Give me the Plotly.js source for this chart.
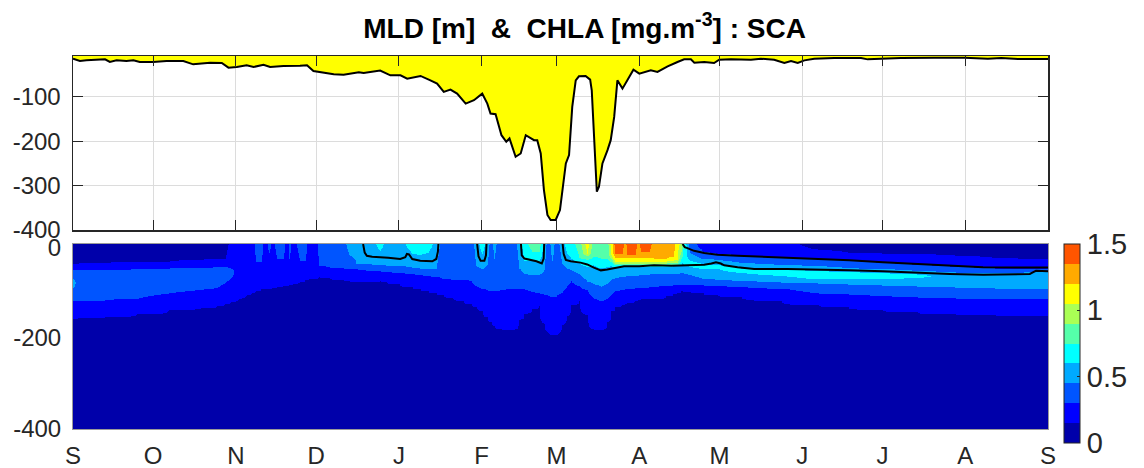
<!DOCTYPE html>
<html><head><meta charset="utf-8">
<script src="https://cdn.plot.ly/plotly-3.0.1.min.js"></script>
<style>html,body{margin:0;padding:0;background:#fff}#chart{width:1144px;height:468px}</style>
</head><body><div id="chart"></div>
<script>
// ---- axis ticks (days since 1 September) ----
const monthTickDays = [0,30,61,91,122,153,181,212,242,273,303,334,365];
const monthTickLabels = ['S','O','N','D','J','F','M','A','M','J','J','A','S'];
const mldTickVals = [-400,-300,-200,-100];
const mldTickText = ['-400','-300','-200','-100'];
const chlaTickVals = [-400,-200,0];
const chlaTickText = ['-400','-200','0'];

// ---- mixed layer depth (m) ----
const mldDay = [0,2.6,5,8.8,12,13.8,16.3,20,22.6,25,30,35,41.3,45,51.3,55.7,58.2,61.3,65,67.6,71.3,73.8,78.8,85,87.6,90,93.8,97.6,101.3,103.8,107,108.8,111.3,115,118.8,122.6,125.1,130.1,133.8,136.3,138.8,141.3,143.8,147,150.1,153.2,155.1,156.3,158.2,160.4,162.2,163.4,165.7,167.6,169.5,170.7,172.6,173.8,175.1,176.3,177.6,178.8,180.7,182.3,183.2,184.5,185.7,186.9,188.2,189.4,191.9,193.6,194.2,195.1,196.1,196.9,198.2,200.1,201.3,202.6,203.8,205.7,207.6,209.8,212,213.8,216.3,218.8,222.6,226.3,228.8,231.3,232.6,236.3,240,241.9,246.3,253.8,257.5,262.5,266.3,268.8,271.3,273.8,277.5,285,295,297.5,302.5,310,322.5,333.8,342.5,347.5,353.8,360,365];
const mldDepth = [-13.6,-18.9,-17.4,-15.2,-15,-21,-17.4,-19,-17.4,-21,-21,-19,-19,-26.4,-22.6,-23.4,-33.9,-32.4,-28.6,-32.4,-27.2,-32.4,-30.2,-29.4,-28.6,-41.4,-45.9,-48.9,-49.7,-47.4,-44.4,-45.9,-44.4,-40.6,-51.2,-51.2,-58.6,-52.6,-62.4,-69.9,-88.6,-83.4,-92.4,-114.9,-107.4,-92.4,-114.9,-137.4,-138.9,-186.2,-201,-193.6,-234.9,-227.4,-186.2,-190,-197.4,-197.4,-227.4,-310,-366,-377.4,-377.4,-355,-310,-250,-231,-122.4,-62.4,-53.4,-52.6,-60.9,-84.9,-197.4,-313.6,-302.4,-249.9,-219.9,-197.4,-144.9,-62.4,-81.2,-62.4,-38.4,-47.4,-43.6,-39.9,-43.6,-30.9,-21.2,-15.2,-15.2,-22.6,-21.2,-23.4,-15.9,-15.2,-16,-13.6,-16,-23.4,-18.9,-23.4,-17.4,-13.6,-12.2,-12.2,-15.2,-13.6,-12.2,-11.4,-11.4,-13.6,-12.2,-14.4,-13.6,-14.4];

// ---- chlorophyll-a (mg m-3): colour band read at each date, top to bottom ----
// each profile: [band, bottom depth of band, band, bottom depth, ..., deepest band]
const chlaDay = [0,2,12,24,36,48,54,57,59,62,65,67,68.5,70.5,72,73.2,74.5,76.2,78.5,80,81,82.5,84.8,86.8,88.5,90.5,92,96,101,103.5,106,108,112,115,117,122,127,130,133,136,138.5,142,146,149,151,153,155,156.5,157.5,159,162,165,167,169,172,174.5,176.5,178,179.5,181,183,185,186.5,189.5,192.5,194.5,197.5,200,201.5,203,205.5,206.5,207.5,210.5,211.5,212.5,215.5,217,222,224.5,226,227.5,228,231,236,241,250,265,279,290,303,316,330,345,365];
const chlaBands = [
 [0,-35,1,-50,2,-68,3,-88,2,-119,1,-156,0],
 [0,-35,1,-50,2,-119,1,-155,0],
 [0,-34,1,-50,2,-117,1,-152,0],
 [0,-32,1,-48,2,-112,1,-147,0],
 [0,-31,1,-45,2,-101,1,-138,0],
 [0,-28,1,-44,2,-94,1,-133,0],
 [0,-26,1,-42,2,-88,1,-128,0],
 [0,-25,1,-42,2,-78,1,-124,0],
 [1,-46,2,-66,1,-120,0],
 [1,-112,0],
 [1,-105,0],
 [1,-100,0],
 [2,-33,1,-97,0],
 [2,-33,1,-93,0],
 [1,-91,0],
 [2,-13,1,-90,0],
 [1,-89,0],
 [2,-26,1,-87,0],
 [2,-26,1,-85,0],
 [1,-84,0],
 [2,-24,1,-83,0],
 [1,-81,0],
 [2,-30,1,-76,0],
 [2,-30,1,-73,0],
 [1,-71,0],
 [1,-68,0],
 [2,-40,1,-65,0],
 [2,-43,1,-66,0],
 [2,-45,1,-72,0],
 [3,-16,2,-46,1,-75,0],
 [3,-35,2,-48,1,-76,0],
 [3,-36,2,-50,1,-76,0],
 [3,-37,2,-52,1,-76,0],
 [4,-9,3,-38,2,-53,1,-75,0],
 [3,-39,2,-54,1,-76,0],
 [3,-40,2,-56,1,-80,0],
 [4,-14,3,-43,2,-58,1,-86,0],
 [4,-16,3,-45,2,-60,1,-93,0],
 [4,-12,3,-47,2,-62,1,-97,0],
 [3,-48,2,-64,1,-101,0],
 [2,-70,1,-104,0],
 [2,-72,1,-110,0],
 [2,-72,1,-118,0],
 [2,-75,1,-125,0],
 [3,-40,2,-85,1,-130,0],
 [4,-15,3,-46,2,-90,1,-140,0],
 [3,-38,2,-95,1,-153,0],
 [2,-97,1,-165,0],
 [3,-24,2,-97,1,-172,0],
 [2,-96,1,-178,0],
 [2,-93,1,-182,0],
 [2,-90,1,-182,0],
 [3,-45,2,-90,1,-160,0],
 [4,-30,3,-58,2,-92,1,-146,0],
 [5,-9,4,-31,3,-60,2,-98,1,-135,0],
 [5,-9,4,-31,3,-60,2,-101,1,-128,0],
 [3,-50,2,-104,1,-168,0],
 [2,-106,1,-188,0],
 [3,-30,2,-108,1,-192,0],
 [2,-108,1,-192,0],
 [3,-35,2,-100,1,-170,0],
 [4,-15,3,-45,2,-85,1,-150,0],
 [4,-24,3,-50,2,-75,1,-126,0],
 [5,-22,4,-35,3,-58,2,-85,1,-119,0],
 [7,-13,6,-18,5,-28,4,-42,3,-75,2,-95,1,-148,0],
 [5,-20,4,-38,3,-80,2,-110,1,-180,0],
 [5,-24,4,-45,3,-85,2,-119,1,-183,0],
 [5,-24,4,-42,3,-80,2,-112,1,-165,0],
 [7,-16,6,-25,5,-32,4,-40,3,-72,2,-104,1,-141,0],
 [9,-13,8,-22,7,-31,6,-35,5,-38,4,-42,3,-66,2,-97,1,-130,0],
 [9,-13,8,-22,7,-31,6,-35,5,-38,4,-42,3,-64,2,-94,1,-126,0],
 [8,-22,7,-31,6,-35,5,-38,4,-42,3,-63,2,-93,1,-125,0],
 [9,-16,8,-23,7,-31,6,-35,5,-38,4,-42,3,-62,2,-91,1,-122,0],
 [9,-16,8,-23,7,-31,6,-35,5,-38,4,-42,3,-61,2,-89,1,-118,0],
 [8,-23,7,-31,6,-35,5,-38,4,-42,3,-61,2,-89,1,-116,0],
 [9,-9,8,-22,7,-31,6,-35,5,-38,4,-42,3,-60,2,-88,1,-114,0],
 [9,-9,8,-22,7,-31,6,-35,5,-38,4,-42,3,-59,2,-87,1,-113,0],
 [8,-23,7,-31,6,-35,5,-38,4,-42,3,-58,2,-86,1,-112,0],
 [8,-24,7,-31,6,-35,5,-38,4,-42,3,-58,2,-84,1,-106,0],
 [8,-20,7,-29,6,-34,5,-37,4,-41,3,-58,2,-83,1,-102,0],
 [7,-28,6,-33,5,-37,4,-41,3,-58,2,-83,1,-100,0],
 [6,-10,5,-25,4,-38,3,-56,2,-82,1,-97,0],
 [5,-20,4,-35,3,-56,2,-82,1,-97,0],
 [2,-12,3,-30,4,-42,3,-60,2,-82,1,-98,0],
 [1,-10,2,-25,3,-36,4,-46,3,-68,2,-83,1,-101,0],
 [1,-14,2,-28,3,-38,4,-48,3,-72,2,-84,1,-104,0],
 [1,-18,2,-34,3,-45,4,-56,3,-74,2,-86,1,-108,0],
 [1,-22,2,-38,3,-49,4,-62,3,-77,2,-90,1,-118,0],
 [0,-5,1,-26,2,-40,3,-52,4,-70,3,-79,2,-101,1,-126,0],
 [0,-11,1,-30,2,-44,3,-54,4,-70,3,-81,2,-103,1,-131,0],
 [0,-13,1,-34,2,-48,3,-56,4,-68,3,-83,2,-106,1,-138,0],
 [0,-14,1,-38,2,-52,3,-59,4,-66,3,-85,2,-109,1,-143,0],
 [0,-17,1,-42,2,-55,3,-87,2,-111,1,-147,0],
 [0,-22,1,-45,2,-56,3,-89,2,-113,1,-149,0],
 [0,-27,1,-45,2,-52,3,-90,2,-115,1,-150,0]
];
const bandEdges = [0,0.15,0.3,0.45,0.6,0.75,0.9,1.05,1.2,1.35,1.5];
const bandColors = ['#0000AA','#0000FF','#0055FF','#00AAFF','#00FFFF','#55FFAA','#AAFF55','#FFFF00','#FFAA00','#FF5500'];
const colorbarTicks = [0,0.5,1,1.5];

// ---- black contour lines (day, depth) ----
const contourDay = [108.6,109.2,110,112,118,122.5,124.4,125,125.8,127,130,134.5,136,136.6,136.8,null,
 151.3,151.8,152.6,154,154.6,154.8,null,
 167.7,168,169,171,173.5,175.5,176.2,176.4,null,
 183.3,183.7,184.5,186.3,190,192.5,195,197.6,200,202.6,206.3,212,217.5,224,230,236.3,239,240.7,242.5,243.8,248.8,255,267.5,280,290.7,303.2,315.7,328.2,340.7,358.2,359.5,360.5,365,null,
 228.2,229,230,232.5,236.3,241.3,248.8,261.3,273.8,280,290.7,303.2,315.7,328.2,340.7,353.2,365];
const contourDepth = [7,-12,-19,-21,-23,-26,-22,-15,-16,-26,-30,-31,-26,-10,7,null,
 7,-20,-30,-30,-18,7,null,
 7,-18,-25,-27,-31,-36,-25,7,null,
 7,-15,-28,-31,-34,-38,-45,-51,-49,-46,-42,-42,-40,-41,-40,-38.4,-36,-33,-36,-40,-44.3,-48,-48,-49,-51,-53,-56.8,-59,-60.4,-59,-55,-52,-53,null,
 7,0,-2,-8,-13,-16.5,-18.7,-21.6,-23.8,-25.5,-29,-33.3,-37,-42,-44.3,-44.5,-44.5];

// ---- turn each band profile into a continuous profile (edge values at band boundaries) ----
function profileKnots(p) {
  const codes = [], bottoms = [];
  for (let k = 0; k < p.length; k++) { if (k % 2 === 0) codes.push(p[k]); else bottoms.push(p[k]); }
  const mid = function(c){ return (bandEdges[c] + bandEdges[c+1]) / 2; };
  const knots = [[7, mid(codes[0])]];
  const n = codes.length;
  for (let i = 1; i < n; i++) {
    const a = codes[i-1], b = codes[i], d = bottoms[i-1];
    if (Math.abs(a - b) === 1) knots.push([d, bandEdges[Math.max(a,b)]]);
    else {
      knots.push([d + 0.6, a < b ? bandEdges[a+1] : bandEdges[a]]);
      knots.push([d - 0.6, a < b ? bandEdges[b] : bandEdges[b+1]]);
    }
    if (i < n - 1) knots.push([(d + bottoms[i]) / 2, mid(b)]);
    else knots.push([-400, mid(b)]);
  }
  return knots;
}
function knotValue(knots, d) {
  if (d >= knots[0][0]) return knots[0][1];
  for (let k = 0; k < knots.length - 1; k++) {
    const k0 = knots[k], k1 = knots[k+1];
    if (d <= k0[0] && d >= k1[0]) {
      const f = (k0[0] - d) / (k0[0] - k1[0] || 1);
      return k0[1] + f * (k1[1] - k0[1]);
    }
  }
  return knots[knots.length-1][1];
}
const allKnots = chlaBands.map(profileKnots);
const depthGrid = [-400,-370,-340,-310,-280,-260,-245,-232];
for (let d = -221; d <= 7.001; d += 2) depthGrid.push(d);
const zGrid = depthGrid.map(function(d){
  return allKnots.map(function(kn){ return knotValue(kn, d); });
});
const cscale = [];
bandColors.forEach(function(c,i){
  cscale.push([i/10, c]); cscale.push([(i+1)/10, c]);
});

const axColor = '#262626';
const font = 'Liberation Sans, Arial, sans-serif';

const traces = [
  {type:'scatter', x: mldDay, y: mldDepth, mode:'lines', fill:'tozeroy',
   fillcolor:'#FFFF00', line:{color:'#000000', width:2}, xaxis:'x', yaxis:'y', hoverinfo:'skip'},
  {type:'heatmap', x: chlaDay, y: depthGrid, z: zGrid, zsmooth:'best',
   zmin:0, zmax:1.5, colorscale: cscale, xaxis:'x2', yaxis:'y2', hoverinfo:'skip',
   colorbar:{thickness:16, thicknessmode:'pixels', len:199, lenmode:'pixels',
     x:1.0164, xanchor:'left', xref:'paper', y:0.2292, yanchor:'middle', yref:'paper',
     xpad:0, ypad:0, outlinewidth:1, outlinecolor:axColor,
     tickvals: colorbarTicks, ticktext: colorbarTicks.map(String),
     ticks:'inside', ticklen:3, tickcolor:axColor,
     tickfont:{family:font, size:29, color:axColor}, ticklabelstandoff:11}},
  {type:'scatter', x: contourDay, y: contourDepth, mode:'lines', connectgaps:false,
   line:{color:'#000000', width:2}, xaxis:'x2', yaxis:'y2', hoverinfo:'skip', showlegend:false}
];

const layout = {
  width:1144, height:468, showlegend:false,
  paper_bgcolor:'#ffffff', plot_bgcolor:'#ffffff',
  margin:{l:73, r:96, t:56, b:39, pad:0},
  title:{text:'MLD [m]\u00a0\u00a0&\u00a0\u00a0CHLA [mg.m<sup>-3</sup>] : SCA',
    font:{family:'Liberation Sans Narrow, Liberation Sans, Arial, sans-serif', size:28, color:'#000', weight:'bold'},
    x:0.511, xanchor:'center', xref:'container', y:0.94, yanchor:'middle', yref:'container'},
  xaxis:{domain:[0,1], range:[0,365], anchor:'y', tickvals: monthTickDays, showticklabels:false,
    ticks:'inside', ticklen:10, tickcolor:axColor, showgrid:true, gridcolor:'#DCDCDC', gridwidth:1,
    showline:true, linecolor:axColor, linewidth:1.5, mirror:'ticks', zeroline:false},
  yaxis:{domain:[0.5335,1], range:[-400,-7.6], anchor:'x', tickvals: mldTickVals, ticktext: mldTickText,
    ticks:'inside', ticklen:10, tickcolor:axColor, showgrid:true, gridcolor:'#DCDCDC',
    showline:true, linecolor:axColor, linewidth:1.5, mirror:'ticks', zeroline:false,
    tickfont:{family:font, size:24, color:axColor}, ticklabelstandoff:6},
  xaxis2:{domain:[0,1], range:[0,365], anchor:'y2', tickvals: monthTickDays, ticktext: monthTickLabels,
    ticks:'', showgrid:false, showline:true, linecolor:'#9a9a9a', linewidth:1, mirror:true, zeroline:false,
    tickfont:{family:font, size:24, color:axColor}, ticklabelstandoff:5},
  yaxis2:{domain:[0,0.496], range:[-400,7], anchor:'x2', tickvals: chlaTickVals, ticktext: chlaTickText,
    ticks:'', showgrid:false, showline:true, linecolor:'#9a9a9a', linewidth:1, mirror:true, zeroline:false,
    tickfont:{family:font, size:24, color:axColor}, ticklabelstandoff:6}
};

Plotly.newPlot('chart', traces, layout, {displayModeBar:false, staticPlot:true});
</script>
</body></html>
